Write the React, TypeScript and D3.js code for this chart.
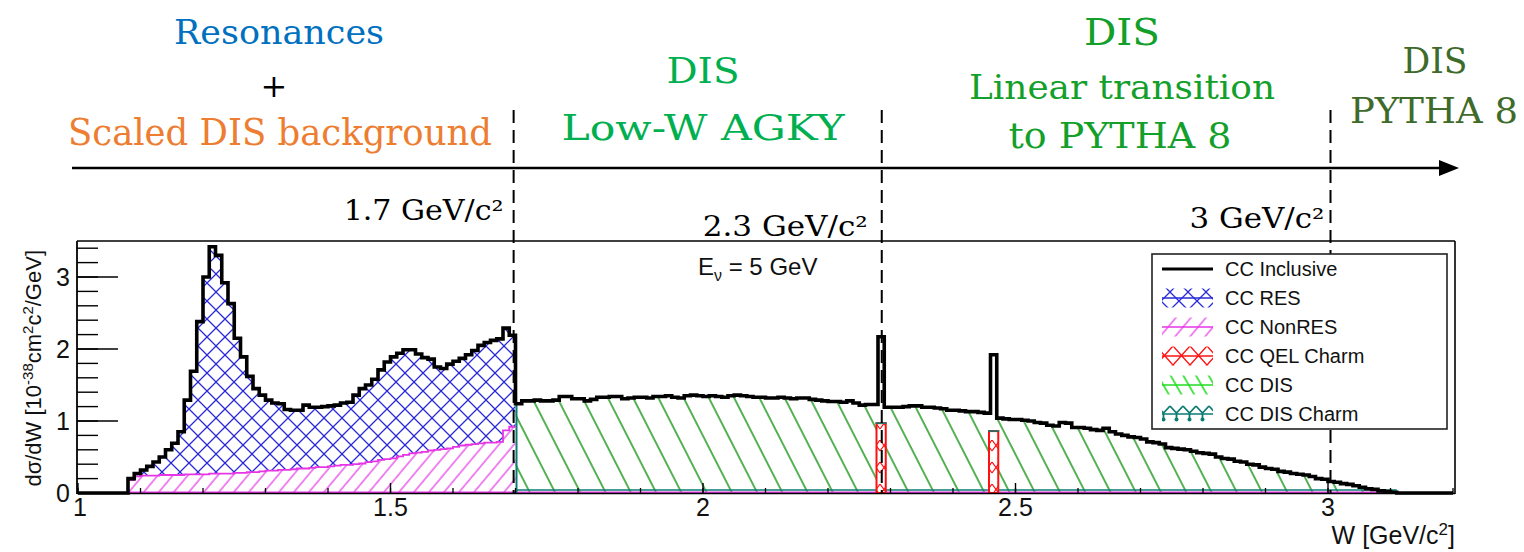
import React from "react";
import * as d3 from "d3";

// ---------------- data ----------------
const binStart = 1.08;
const binWidth = 0.01;

// CC inclusive in the resonance region (1.08 .. 1.69), = RES + NonRES
const resRegionInclusive = [
  0.20, 0.27, 0.32, 0.37, 0.43, 0.50, 0.60, 0.69, 0.85, 1.29,
  1.69, 2.38, 3.00, 3.42, 3.30, 2.92, 2.63, 2.15, 1.89, 1.62,
  1.45, 1.36, 1.29, 1.25, 1.24, 1.16, 1.15, 1.15, 1.22, 1.19,
  1.19, 1.20, 1.21, 1.22, 1.25, 1.26, 1.36, 1.45, 1.50, 1.58,
  1.71, 1.82, 1.89, 1.94, 1.99, 1.99, 1.93, 1.88, 1.86, 1.75,
  1.73, 1.79, 1.83, 1.87, 1.92, 1.98, 2.05, 2.09, 2.12, 2.14,
  2.29, 2.19,
];

// CC NonRES (1.08 .. 1.69)
const nonResValues = [
  0.18, 0.23, 0.24, 0.24, 0.24, 0.25, 0.25, 0.25, 0.25, 0.26,
  0.26, 0.26, 0.26, 0.27, 0.27, 0.27, 0.27, 0.28, 0.28, 0.29,
  0.29, 0.30, 0.31, 0.31, 0.32, 0.32, 0.33, 0.34, 0.34, 0.35,
  0.36, 0.36, 0.37, 0.38, 0.39, 0.39, 0.40, 0.41, 0.43, 0.44,
  0.46, 0.47, 0.48, 0.51, 0.53, 0.55, 0.56, 0.57, 0.59, 0.60,
  0.61, 0.62, 0.64, 0.66, 0.67, 0.68, 0.69, 0.70, 0.70, 0.71,
  0.87, 0.92,
];

// CC DIS (1.70 .. 3.10)
const disValues = [
  1.24, 1.28, 1.28, 1.29, 1.28, 1.28, 1.29, 1.34, 1.34, 1.31,
  1.31, 1.28, 1.30, 1.33, 1.33, 1.34, 1.34, 1.31, 1.32, 1.33,
  1.33, 1.32, 1.34, 1.34, 1.35, 1.33, 1.32, 1.35, 1.36, 1.35,
  1.34, 1.35, 1.34, 1.33, 1.35, 1.36, 1.35, 1.34, 1.33, 1.33,
  1.32, 1.32, 1.33, 1.32, 1.31, 1.32, 1.32, 1.30, 1.29, 1.28,
  1.27, 1.27, 1.26, 1.28, 1.25, 1.22, 1.23, 1.23, 1.20, 1.19,
  1.19, 1.19, 1.20, 1.21, 1.21, 1.19, 1.19, 1.18, 1.17, 1.15,
  1.15, 1.14, 1.13, 1.13, 1.12, 1.11, 1.06, 1.04, 1.03, 1.02,
  1.02, 1.01, 1.00, 0.98, 0.97, 0.94, 0.93, 0.98, 0.97, 0.91,
  0.91, 0.90, 0.88, 0.87, 0.90, 0.85, 0.82, 0.80, 0.78, 0.77,
  0.75, 0.71, 0.70, 0.68, 0.63, 0.62, 0.61, 0.60, 0.58, 0.56,
  0.55, 0.54, 0.50, 0.48, 0.47, 0.44, 0.43, 0.40, 0.39, 0.36,
  0.34, 0.33, 0.30, 0.29, 0.27, 0.26, 0.25, 0.23, 0.20, 0.19,
  0.16, 0.15, 0.13, 0.12, 0.10, 0.08, 0.06, 0.05, 0.03, 0.02,
  0.01,
];

// CC QEL charm (single-bin spikes)
const qelCharmBins = [2.28, 2.46];
const qelCharmValues = [0.97, 0.86];

const xMajorTicks = [1, 1.5, 2, 2.5, 3];
const xTickLabels = ["1", "1.5", "2", "2.5", "3"];
const yMajorTicks = [0, 1, 2, 3];
const yTickLabels = ["0", "1", "2", "3"];

const legendLabels = ["CC Inclusive", "CC RES", "CC NonRES", "CC QEL Charm", "CC DIS", "CC DIS Charm"];

// region boundaries (W) and their labels
const boundaryW = [1.697, 2.286, 3.004];
const boundaryLabels = ["1.7 GeV/c²", "2.3 GeV/c²", "3 GeV/c²"];

// ---------------- styling ----------------
const C_RES = "#2a2ad8";
const C_NONRES = "#e535e5";
const C_QEL = "#ff1010";
const C_DIS = "#2ca02c";
const C_DIS_LEG = "#22dd22";
const C_DISC = "#0b7b73";
const SANS = "'Liberation Sans', Arial, Helvetica, sans-serif";
const SERIF = "'DejaVu Serif', 'Liberation Serif', serif";

type Pt = { w: number; top: number; bottom: number };

export default function App() {
  const width = 1524;
  const height = 552;
  const x = d3.scaleLinear().domain([1, 3.2]).range([78, 1453]);
  const y = d3.scaleLinear().domain([0, 3.5]).range([493, 241]);

  const disStart = binStart + resRegionInclusive.length * binWidth;
  const key = (w: number) => Math.round(w * 100);

  const stepPts = (vals: number[], start: number, bottoms?: number[]): Pt[] =>
    vals.flatMap((v, i) => {
      const w0 = start + i * binWidth;
      const b = bottoms ? bottoms[i] : 0;
      return [
        { w: w0, top: v, bottom: b },
        { w: w0 + binWidth, top: v, bottom: b },
      ];
    });

  const area = d3
    .area<Pt>()
    .x((d) => x(d.w))
    .y0((d) => y(d.bottom))
    .y1((d) => y(d.top));
  const topLine = d3
    .line<Pt>()
    .x((d) => x(d.w))
    .y((d) => y(d.top));
  const line = d3
    .line<[number, number]>()
    .x((d) => x(d[0]))
    .y((d) => y(d[1]));

  const nonResPts = stepPts(nonResValues, binStart);
  const resPts = stepPts(resRegionInclusive, binStart, nonResValues);
  const disPts = stepPts(disValues, disStart);

  const disPlusQel = disValues.map((v, i) => {
    const k = key(disStart + i * binWidth);
    const j = qelCharmBins.findIndex((b) => key(b) === k);
    return j >= 0 ? v + qelCharmValues[j] : v;
  });
  const endW = disStart + disValues.length * binWidth;
  const inclusive: [number, number][] = [
    [1, 0],
    [binStart, 0],
    ...stepPts(resRegionInclusive, binStart).map((p) => [p.w, p.top] as [number, number]),
    ...stepPts(disPlusQel, disStart).map((p) => [p.w, p.top] as [number, number]),
    [endW, 0],
    [3.2, 0],
  ];

  const yMinor = d3.range(0, 3.5, 0.2);
  const xMinor = d3.range(1, 3.2001, 0.1);

  const legX = 1152,
    legY = 254,
    legW = 295,
    legH = 175;
  const rowY = (i: number) => legY + 15 + i * 29;
  const legendFill = ["", "url(#resPat)", "url(#nonResPat)", "url(#qelPat)", "url(#disLegPat)", "url(#disCharmPat)"];
  const legendLine = ["#000", C_RES, C_NONRES, C_QEL, C_DIS_LEG, C_DISC];

  return (
    <svg
      width={width}
      height={height}
      style={{ position: "absolute", left: 0, top: 0, background: "#fff" }}
      xmlns="http://www.w3.org/2000/svg"
    >
      <defs>
        <pattern id="resPat" patternUnits="userSpaceOnUse" width={18} height={18} x={0} y={4}>
          <path d="M0,0 L18,18 M18,0 L0,18" stroke={C_RES} strokeWidth={1.3} fill="none" />
        </pattern>
        <pattern id="nonResPat" patternUnits="userSpaceOnUse" width={11.5} height={10} patternTransform="rotate(40)">
          <line x1={1} y1={-1} x2={1} y2={11} stroke={C_NONRES} strokeWidth={1.2} />
        </pattern>
        <pattern id="disPat" patternUnits="userSpaceOnUse" width={22.5} height={10} patternTransform="rotate(-27)">
          <line x1={1} y1={-1} x2={1} y2={11} stroke={C_DIS} strokeWidth={1.6} />
        </pattern>
        <pattern id="disLegPat" patternUnits="userSpaceOnUse" width={11} height={10} patternTransform="rotate(-30)">
          <line x1={1} y1={-1} x2={1} y2={11} stroke={C_DIS_LEG} strokeWidth={1.6} />
        </pattern>
        <pattern id="qelPat" patternUnits="userSpaceOnUse" width={17} height={19} y={4}>
          <path d="M0,0 L17,19 M17,0 L0,19" stroke={C_QEL} strokeWidth={1.4} fill="none" />
        </pattern>
        <pattern id="qelBarPat" patternUnits="userSpaceOnUse" width={8} height={22}>
          <path d="M0,0 L8,11 M8,0 L0,11" stroke={C_QEL} strokeWidth={1.2} fill="none" />
        </pattern>
        <pattern id="disCharmPat" patternUnits="userSpaceOnUse" width={13} height={19} y={4}>
          <path d="M0,3 L6.5,10 L13,3 M6.5,10 L6.5,16" stroke={C_DISC} strokeWidth={1.8} fill="none" />
          <circle cx={6.5} cy={16.5} r={2} fill={C_DISC} />
        </pattern>
      </defs>

      {/* ---------- header annotations ---------- */}
      <text x={279} y={44} fontFamily={SERIF} fontSize={33} fill="#0070c0" textAnchor="middle" textLength={210} lengthAdjust="spacingAndGlyphs">
        Resonances
      </text>
      <text x={274} y={97} fontFamily={SERIF} fontSize={32} fill="#000" textAnchor="middle">
        +
      </text>
      <text x={280} y={145} fontFamily={SERIF} fontSize={37} fill="#ed7d31" textAnchor="middle" textLength={424} lengthAdjust="spacingAndGlyphs">
        Scaled DIS background
      </text>

      <text x={703} y={83} fontFamily={SERIF} fontSize={35} fill="#00b050" textAnchor="middle" textLength={73} lengthAdjust="spacingAndGlyphs">
        DIS
      </text>
      <text x={703} y={140} fontFamily={SERIF} fontSize={36} fill="#00b050" textAnchor="middle" textLength={283} lengthAdjust="spacingAndGlyphs">
        Low-W AGKY
      </text>

      <text x={1122} y={45} fontFamily={SERIF} fontSize={37} fill="#12a02a" textAnchor="middle" textLength={76} lengthAdjust="spacingAndGlyphs">
        DIS
      </text>
      <text x={1122} y={99} fontFamily={SERIF} fontSize={34} fill="#12a02a" textAnchor="middle" textLength={306} lengthAdjust="spacingAndGlyphs">
        Linear transition
      </text>
      <text x={1120} y={148} fontFamily={SERIF} fontSize={35} fill="#12a02a" textAnchor="middle" textLength={223} lengthAdjust="spacingAndGlyphs">
        to PYTHA 8
      </text>

      <text x={1435} y={73} fontFamily={SERIF} fontSize={36} fill="#3e6b2a" textAnchor="middle" textLength={65} lengthAdjust="spacingAndGlyphs">
        DIS
      </text>
      <text x={1434} y={123} fontFamily={SERIF} fontSize={36} fill="#3e6b2a" textAnchor="middle" textLength={168} lengthAdjust="spacingAndGlyphs">
        PYTHA 8
      </text>

      {/* arrow */}
      <line x1={72} y1={168} x2={1445} y2={168} stroke="#000" strokeWidth={2.5} />
      <polygon points="1439,160 1459,168 1439,176" fill="#000" />

      {/* boundary labels */}
      {boundaryW.map((w, i) => (
        <text
          key={"bl" + i}
          x={x(w) - [10, 14, 6][i]}
          y={[220, 236, 228][i]}
          fontFamily={SERIF}
          fontSize={27}
          fill="#000"
          textAnchor="end"
          textLength={[160, 165, 135][i]}
          lengthAdjust="spacingAndGlyphs"
        >
          {boundaryLabels[i]}
        </text>
      ))}

      {/* ---------- histogram fills ---------- */}
      <path d={area(nonResPts) || ""} fill="url(#nonResPat)" />
      <path d={area(resPts) || ""} fill="url(#resPat)" />
      <path d={area(disPts) || ""} fill="url(#disPat)" />

      {/* outlines of components */}
      <path d={topLine(resPts) || ""} fill="none" stroke={C_RES} strokeWidth={1.2} />
      <path d={topLine(nonResPts) || ""} fill="none" stroke={C_NONRES} strokeWidth={1.8} />
      <line x1={x(binStart)} x2={x(endW)} y1={y(0) - 0.5} y2={y(0) - 0.5} stroke={C_NONRES} strokeWidth={2} />
      <line x1={x(disStart)} x2={x(endW)} y1={y(0) - 3} y2={y(0) - 3} stroke={C_DISC} strokeWidth={1.6} />
      <line x1={x(disStart) + 1} x2={x(disStart) + 1} y1={y(0)} y2={y(disValues[0])} stroke={C_DISC} strokeWidth={2} />

      {/* QEL charm bars */}
      {qelCharmBins.map((b, i) => (
        <g key={"q" + i}>
          <rect
            x={x(b) - 1.5}
            y={y(qelCharmValues[i])}
            width={x(b + binWidth) - x(b) + 3}
            height={y(0) - y(qelCharmValues[i])}
            fill="#fff"
          />
          <rect
            x={x(b) - 1.5}
            y={y(qelCharmValues[i])}
            width={x(b + binWidth) - x(b) + 3}
            height={y(0) - y(qelCharmValues[i])}
            fill="url(#qelBarPat)"
            stroke={C_QEL}
            strokeWidth={2}
          />
          <line
            x1={x(b) - 2.5}
            x2={x(b + binWidth) + 2.5}
            y1={y(qelCharmValues[i])}
            y2={y(qelCharmValues[i])}
            stroke={C_DISC}
            strokeWidth={1.5}
          />
        </g>
      ))}

      {/* CC inclusive */}
      <path d={line(inclusive) || ""} fill="none" stroke="#000" strokeWidth={3.6} strokeLinejoin="miter" />

      {/* ---------- frame & axes ---------- */}
      <line x1={77} x2={1455} y1={241} y2={241} stroke="#000" strokeWidth={1.6} />
      <line x1={1455} x2={1455} y1={241} y2={494} stroke="#000" strokeWidth={1.6} />
      <line x1={77} x2={77} y1={241} y2={494} stroke="#000" strokeWidth={1.8} />
      <line x1={77} x2={1455} y1={493.5} y2={493.5} stroke="#000" strokeWidth={1.4} />

      {yMinor.map((v, i) => (
        <line key={"ym" + i} x1={77} x2={98} y1={y(v)} y2={y(v)} stroke="#000" strokeWidth={1.4} />
      ))}
      {yMajorTicks.map((v, i) => (
        <g key={"yM" + i}>
          <line x1={77} x2={118} y1={y(v)} y2={y(v)} stroke="#000" strokeWidth={1.4} />
          <text x={70} y={y(v) + 9} fontFamily={SANS} fontSize={25} textAnchor="end" fill="#111">
            {yTickLabels[i]}
          </text>
        </g>
      ))}
      {xMinor.map((v, i) => (
        <line key={"xm" + i} x1={x(v)} x2={x(v)} y1={493} y2={488} stroke="#000" strokeWidth={1.3} />
      ))}
      {xMajorTicks.map((v, i) => (
        <g key={"xM" + i}>
          <line x1={x(v)} x2={x(v)} y1={493} y2={483} stroke="#000" strokeWidth={1.4} />
          <text x={x(v) + (i === 0 ? 2 : 0)} y={516} fontFamily={SANS} fontSize={25} textAnchor="middle" fill="#111">
            {xTickLabels[i]}
          </text>
        </g>
      ))}

      {/* axis titles */}
      <text x={1455} y={544} fontFamily={SANS} fontSize={25} textAnchor="end" fill="#111">
        W [GeV/c<tspan dy={-9} fontSize={17}>2</tspan>
        <tspan dy={9}>]</tspan>
      </text>
      <text transform="translate(41,250) rotate(-90)" fontFamily={SANS} fontSize={22} textAnchor="end" fill="#111">
        dσ/dW [10<tspan dy={-8} fontSize={15}>-38</tspan>
        <tspan dy={8}>cm</tspan>
        <tspan dy={-8} fontSize={15}>2</tspan>
        <tspan dy={8}>c</tspan>
        <tspan dy={-8} fontSize={15}>2</tspan>
        <tspan dy={8}>/GeV]</tspan>
      </text>

      <text x={698} y={275} fontFamily={SANS} fontSize={24} fill="#111">
        E<tspan dy={6} fontSize={16}>ν</tspan>
        <tspan dy={-6}> = 5 GeV</tspan>
      </text>

      {/* dashed region boundaries */}
      {boundaryW.map((w, i) => (
        <line key={"bd" + i} x1={x(w)} x2={x(w)} y1={110} y2={493} stroke="#000" strokeWidth={2} strokeDasharray="13 7" />
      ))}

      {/* ---------- legend ---------- */}
      <rect x={legX} y={legY} width={legW} height={legH} fill="#fff" stroke="#222" strokeWidth={1.6} />
      {legendLabels.map((lab, i) => {
        const cy = rowY(i);
        return (
          <g key={"lg" + i}>
            {i > 0 && <rect x={1162} y={cy - 9.5} width={51} height={19} fill={legendFill[i]} />}
            <line x1={1162} x2={1213} y1={cy} y2={cy} stroke={legendLine[i]} strokeWidth={i === 0 ? 3.2 : 1.6} />
            <text x={1225} y={cy + 7} fontFamily={SANS} fontSize={20} fill="#111">
              {lab}
            </text>
          </g>
        );
      })}
    </svg>
  );
}
